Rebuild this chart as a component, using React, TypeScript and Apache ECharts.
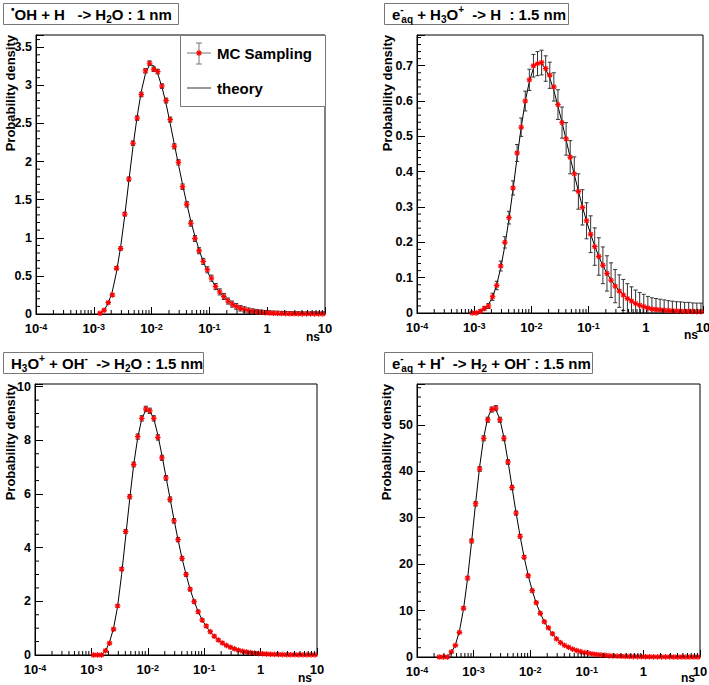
import React, { useEffect, useRef } from "react";
import * as echarts from "echarts";

const FONT = "'Liberation Sans', Arial, Helvetica, sans-serif";

// Log-spaced histogram bin centres (ns), 14 bins per decade from 1e-4 to 10
const binCenters = [
  1.086e-4, 1.279e-4, 1.508e-4, 1.778e-4, 2.096e-4, 2.471e-4, 2.913e-4, 3.433e-4, 4.047e-4, 4.771e-4, 5.623e-4, 6.629e-4, 7.814e-4, 9.211e-4,
  1.086e-3, 1.279e-3, 1.508e-3, 1.778e-3, 2.096e-3, 2.471e-3, 2.913e-3, 3.433e-3, 4.047e-3, 4.771e-3, 5.623e-3, 6.629e-3, 7.814e-3, 9.211e-3,
  1.086e-2, 1.279e-2, 1.508e-2, 1.778e-2, 2.096e-2, 2.471e-2, 2.913e-2, 3.433e-2, 4.047e-2, 4.771e-2, 5.623e-2, 6.629e-2, 7.814e-2, 9.211e-2,
  1.086e-1, 1.279e-1, 1.508e-1, 1.778e-1, 2.096e-1, 2.471e-1, 2.913e-1, 3.433e-1, 4.047e-1, 4.771e-1, 5.623e-1, 6.629e-1, 7.814e-1, 9.211e-1,
  1.086, 1.279, 1.508, 1.778, 2.096, 2.471, 2.913, 3.433, 4.047, 4.771, 5.623, 6.629, 7.814, 9.211,
];

// Panel 1: •OH + H -> H2O : 1 nm   (first filled bin index)
const p1Start = 15;
const p1MC = [0.01, 0.05, 0.15, 0.25, 0.60, 0.86, 1.31, 1.77, 2.24, 2.57, 2.88, 3.19, 3.29, 3.21, 3.18, 2.99, 2.80, 2.55, 2.20, 1.99, 1.67, 1.44, 1.19, 0.99, 0.83, 0.69, 0.58, 0.47, 0.36, 0.29, 0.23, 0.17, 0.13, 0.10, 0.075, 0.06, 0.045, 0.035, 0.028, 0.022, 0.017, 0.013, 0.010, 0.008, 0.006, 0.005, 0.004, 0.003, 0.003, 0.002, 0.002, 0.002, 0.001, 0.001, 0.001];
const p1Err = [0.01, 0.012, 0.015, 0.018, 0.02, 0.022, 0.025, 0.027, 0.03, 0.03, 0.03, 0.03, 0.03, 0.03, 0.03, 0.03, 0.032, 0.033, 0.034, 0.035, 0.036, 0.037, 0.038, 0.039, 0.04, 0.04, 0.04, 0.04, 0.04, 0.04, 0.04, 0.04, 0.04, 0.038, 0.036, 0.035, 0.034, 0.033, 0.032, 0.031, 0.03, 0.03, 0.029, 0.029, 0.028, 0.028, 0.027, 0.027, 0.027, 0.026, 0.026, 0.026, 0.026, 0.025, 0.025];
const p1Theory = [0, 0.05, 0.14, 0.30, 0.55, 0.88, 1.29, 1.75, 2.20, 2.59, 2.92, 3.15, 3.27, 3.26, 3.15, 2.98, 2.76, 2.50, 2.23, 1.96, 1.70, 1.45, 1.22, 1.02, 0.84, 0.69, 0.56, 0.45, 0.36, 0.285, 0.225, 0.175, 0.135, 0.105, 0.08, 0.062, 0.047, 0.036, 0.028, 0.021, 0.016, 0.012, 0.0095, 0.0073, 0.0056, 0.0043, 0.0033, 0.0026, 0.002, 0.0015, 0.0012, 0.0009, 0.0007, 0.0005, 0.0004];

// Panel 2: e-aq + H3O+ -> H : 1.5 nm
const p2Start = 13;
const p2MC = [0, 0, 0.005, 0.013, 0.02, 0.046, 0.078, 0.133, 0.20, 0.27, 0.354, 0.453, 0.526, 0.60, 0.66, 0.70, 0.706, 0.709, 0.692, 0.673, 0.64, 0.59, 0.539, 0.493, 0.441, 0.394, 0.344, 0.299, 0.261, 0.223, 0.188, 0.16, 0.135, 0.112, 0.093, 0.076, 0.062, 0.051, 0.041, 0.034, 0.027, 0.022, 0.018, 0.014, 0.011, 0.010, 0.009, 0.008, 0.007, 0.0065, 0.006, 0.0055, 0.005, 0.005, 0.0045, 0.004, 0.004];
const p2Err = [0.002, 0.003, 0.004, 0.005, 0.007, 0.01, 0.012, 0.014, 0.016, 0.018, 0.02, 0.024, 0.026, 0.028, 0.03, 0.032, 0.034, 0.035, 0.036, 0.037, 0.04, 0.042, 0.044, 0.046, 0.047, 0.048, 0.05, 0.05, 0.051, 0.052, 0.053, 0.053, 0.052, 0.05, 0.049, 0.047, 0.046, 0.044, 0.042, 0.04, 0.038, 0.036, 0.035, 0.033, 0.032, 0.031, 0.03, 0.029, 0.028, 0.027, 0.026, 0.026, 0.025, 0.025, 0.024, 0.024, 0.024];
const p2Theory = [0, 0.001, 0.005, 0.011, 0.024, 0.045, 0.08, 0.128, 0.19, 0.265, 0.35, 0.44, 0.525, 0.60, 0.655, 0.693, 0.71, 0.707, 0.69, 0.665, 0.63, 0.585, 0.54, 0.49, 0.44, 0.392, 0.345, 0.30, 0.26, 0.223, 0.19, 0.16, 0.134, 0.112, 0.093, 0.077, 0.063, 0.052, 0.042, 0.034, 0.028, 0.022, 0.018, 0.015, 0.012, 0.0095, 0.0077, 0.0063, 0.0051, 0.0041, 0.0034, 0.0027, 0.0022, 0.0018, 0.0015, 0.0012, 0.001];

// Panel 3: H3O+ + OH- -> H2O : 1.5 nm
const p3Start = 14;
const p3MC = [0, 0, 0, 0.16, 0.44, 0.96, 1.83, 3.2, 4.6, 5.9, 7.1, 8.14, 8.82, 9.17, 9.1, 8.82, 8.11, 7.35, 6.6, 5.8, 5.0, 4.3, 3.6, 3.0, 2.45, 1.99, 1.61, 1.30, 1.08, 0.87, 0.70, 0.56, 0.45, 0.36, 0.29, 0.23, 0.18, 0.14, 0.11, 0.09, 0.07, 0.055, 0.045, 0.035, 0.028, 0.022, 0.018, 0.014, 0.011, 0.009, 0.007, 0.006, 0.005, 0.004, 0.003, 0.003];
const p3Err = [0.01, 0.01, 0.01, 0.02, 0.03, 0.04, 0.05, 0.06, 0.07, 0.08, 0.09, 0.1, 0.1, 0.1, 0.1, 0.1, 0.1, 0.095, 0.09, 0.09, 0.085, 0.08, 0.075, 0.07, 0.065, 0.06, 0.055, 0.05, 0.05, 0.045, 0.045, 0.04, 0.04, 0.035, 0.035, 0.035, 0.03, 0.03, 0.03, 0.03, 0.025, 0.025, 0.025, 0.025, 0.02, 0.02, 0.02, 0.02, 0.02, 0.02, 0.02, 0.02, 0.02, 0.02, 0.02, 0.02];
const p3Theory = [0, 0, 0.02, 0.15, 0.47, 1.0, 1.8, 3.0, 4.4, 5.8, 7.1, 8.1, 8.8, 9.12, 9.1, 8.8, 8.2, 7.45, 6.65, 5.85, 5.05, 4.3, 3.6, 3.0, 2.45, 2.0, 1.62, 1.31, 1.06, 0.86, 0.69, 0.56, 0.45, 0.36, 0.29, 0.23, 0.18, 0.145, 0.115, 0.09, 0.072, 0.057, 0.045, 0.036, 0.028, 0.022, 0.018, 0.014, 0.011, 0.0087, 0.0069, 0.0055, 0.0043, 0.0034, 0.0027, 0.0021];

// Panel 4: e-aq + H• -> H2 + OH- : 1.5 nm
const p4Start = 5;
const p4MC = [0, 0, 0, 1.1, 2.5, 5.3, 10.5, 17, 25, 33, 40.5, 47.1, 51.1, 53.3, 53.6, 51.1, 47.1, 42, 36.5, 31, 26, 21.5, 17.5, 14.3, 11.7, 9.4, 7.6, 6.3, 5.0, 3.9, 3.1, 2.5, 2.1, 1.7, 1.4, 1.15, 0.95, 0.8, 0.65, 0.55, 0.45, 0.37, 0.3, 0.25, 0.2, 0.16, 0.13, 0.11, 0.09, 0.07, 0.06, 0.05, 0.04, 0.035, 0.03, 0.025, 0.02, 0.017, 0.014, 0.012, 0.01, 0.008, 0.007, 0.006, 0.005];
const p4Err = [0.05, 0.05, 0.05, 0.12, 0.18, 0.25, 0.33, 0.4, 0.45, 0.5, 0.52, 0.55, 0.55, 0.55, 0.55, 0.55, 0.52, 0.5, 0.47, 0.44, 0.4, 0.37, 0.34, 0.31, 0.28, 0.25, 0.23, 0.21, 0.19, 0.17, 0.15, 0.14, 0.13, 0.12, 0.11, 0.1, 0.1, 0.09, 0.09, 0.08, 0.08, 0.07, 0.07, 0.07, 0.06, 0.06, 0.06, 0.06, 0.05, 0.05, 0.05, 0.05, 0.05, 0.05, 0.05, 0.05, 0.05, 0.05, 0.05, 0.05, 0.05, 0.05, 0.05, 0.05, 0.05];
const p4Theory = [0, 0, 0.2, 1.0, 2.6, 5.6, 10.3, 16.8, 24.8, 33.2, 41, 47.3, 51.5, 53.5, 53.3, 51.2, 47.3, 42.2, 36.6, 31.1, 26, 21.5, 17.6, 14.3, 11.6, 9.4, 7.6, 6.2, 5.0, 4.0, 3.25, 2.6, 2.1, 1.7, 1.38, 1.12, 0.92, 0.75, 0.61, 0.5, 0.41, 0.34, 0.28, 0.23, 0.19, 0.155, 0.128, 0.105, 0.087, 0.072, 0.06, 0.05, 0.041, 0.034, 0.028, 0.023, 0.019, 0.016, 0.013, 0.011, 0.009, 0.0075, 0.0062, 0.0051, 0.0042];

// Axis ranges
const yMaxes = [3.66, 0.787, 10.1, 58.8];
const yMajorSteps = [0.5, 0.1, 2, 10];
const yMinorSteps = [0.1, 0.02, 0.5, 2];
const xMin = 1e-4;
const xMax = 10;

const titles = [
  "{sup|•}{n|OH + H   -> H}{sub|2}{n|O : 1 nm}",
  "{n|e}{supz|-}{sub|aq}{n| + H}{sub|3}{n|O}{sup|+}{n|  -> H  : 1.5 nm}",
  "{n|H}{sub|3}{n|O}{sup|+}{n| + OH}{sup|-}{n|  -> H}{sub|2}{n|O : 1.5 nm}",
  "{n|e}{supz|-}{sub|aq}{n| + H}{sup|•}{n|  -> H}{sub|2}{n| + OH}{sup|-}{n| : 1.5 nm}",
];
const yAxisTitle = "Probability density";
const xAxisUnit = "ns";
const legendLabels = ["MC Sampling", "theory"];

// Layout (pixels)
const layouts = [
  { left: 36, top: 35, width: 289, height: 279 },
  { left: 417, top: 35, width: 286, height: 278 },
  { left: 35, top: 384, width: 282, height: 271 },
  { left: 417, top: 384, width: 283, height: 273 },
];
const titleBoxes = [
  { x: 3, y: 3, w: 175, h: 21 },
  { x: 384, y: 3, w: 184, h: 21 },
  { x: 3, y: 352, w: 200, h: 21 },
  { x: 384, y: 352, w: 208, h: 21 },
];
const yTitleX = [10, 387, 10, 386];
const unitY = [337, 335, 678, 678];

const panels = [
  { start: p1Start, mc: p1MC, err: p1Err, theory: p1Theory },
  { start: p2Start, mc: p2MC, err: p2Err, theory: p2Theory },
  { start: p3Start, mc: p3MC, err: p3Err, theory: p3Theory },
  { start: p4Start, mc: p4MC, err: p4Err, theory: p4Theory },
];

const RED = "#ff0000";
const ERR = "#333333";

function asterisk(cx: number, cy: number, r: number) {
  const d = r * 0.72;
  const st = { stroke: RED, lineWidth: 1.2 };
  return [
    { type: "line", shape: { x1: cx - r, y1: cy, x2: cx + r, y2: cy }, style: st },
    { type: "line", shape: { x1: cx, y1: cy - r, x2: cx, y2: cy + r }, style: st },
    { type: "line", shape: { x1: cx - d, y1: cy - d, x2: cx + d, y2: cy + d }, style: st },
    { type: "line", shape: { x1: cx - d, y1: cy + d, x2: cx + d, y2: cy - d }, style: st },
  ];
}

function App() {
  const ref = useRef<HTMLDivElement>(null);
  useEffect(() => {
    const chart = echarts.init(ref.current!, null, { renderer: "svg" });

    const xMinorTicks: number[] = [];
    for (let d = -4; d <= 0; d++) {
      for (let m = 2; m <= 9; m++) xMinorTicks.push(m * Math.pow(10, d));
    }

    const titleRich = {
      n: { fontSize: 15, fontWeight: "bold", fontFamily: FONT, fill: "#000", color: "#000", lineHeight: 20 },
      sub: { fontSize: 10, fontWeight: "bold", fontFamily: FONT, color: "#000", lineHeight: 10, verticalAlign: "bottom" },
      sup: { fontSize: 10, fontWeight: "bold", fontFamily: FONT, color: "#000", lineHeight: 10, verticalAlign: "top" },
      supz: { fontSize: 10, fontWeight: "bold", fontFamily: FONT, color: "#000", lineHeight: 10, verticalAlign: "top", width: 1 },
    };

    const series: any[] = [];
    panels.forEach((p, k) => {
      const xs = binCenters.slice(p.start);
      series.push({
        type: "line",
        xAxisIndex: k,
        yAxisIndex: k,
        data: p.theory.map((v, i) => [xs[i], v]),
        showSymbol: false,
        symbol: "none",
        lineStyle: { color: "#000", width: 1 },
        z: 2,
        silent: true,
      });
      series.push({
        type: "custom",
        xAxisIndex: k,
        yAxisIndex: k,
        silent: true,
        z: 3,
        data: p.mc.map((v, i) => [xs[i], v, p.err[i]]),
        renderItem: (_params: any, api: any) => {
          const x = api.value(0);
          const y = api.value(1);
          const e = api.value(2);
          const c = api.coord([x, y]);
          const t = api.coord([x, y + e]);
          const b = api.coord([x, Math.max(0, y - e)]);
          const st = { stroke: ERR, lineWidth: 1 };
          return {
            type: "group",
            children: [
              { type: "line", shape: { x1: c[0], y1: t[1], x2: c[0], y2: b[1] }, style: st },
              { type: "line", shape: { x1: c[0] - 2, y1: t[1], x2: c[0] + 2, y2: t[1] }, style: st },
              { type: "line", shape: { x1: c[0] - 2, y1: b[1], x2: c[0] + 2, y2: b[1] }, style: st },
              ...asterisk(c[0], c[1], 2.8),
            ],
          };
        },
      });
      series.push({
        type: "custom",
        xAxisIndex: k,
        yAxisIndex: k,
        silent: true,
        z: 5,
        data: xMinorTicks.map((v) => [v, 0]),
        renderItem: (_params: any, api: any) => {
          const c = api.coord([api.value(0), 0]);
          return { type: "line", shape: { x1: c[0], y1: c[1], x2: c[0], y2: c[1] - 4 }, style: { stroke: "#000", lineWidth: 1 } };
        },
      });
      const yMinor: number[] = [];
      const nMinor = Math.floor(yMaxes[k] / yMinorSteps[k] + 1e-6);
      const per = Math.round(yMajorSteps[k] / yMinorSteps[k]);
      for (let j = 1; j <= nMinor; j++) if (j % per !== 0) yMinor.push(j * yMinorSteps[k]);
      series.push({
        type: "custom",
        xAxisIndex: k,
        yAxisIndex: k,
        silent: true,
        z: 5,
        data: yMinor.map((v) => [xMin, v]),
        renderItem: (_params: any, api: any) => {
          const c = api.coord([xMin, api.value(1)]);
          return { type: "line", shape: { x1: c[0], y1: c[1], x2: c[0] + 4, y2: c[1] }, style: { stroke: "#000", lineWidth: 1 } };
        },
      });
    });

    const graphic: any[] = [];
    titles.forEach((t, k) => {
      const b = titleBoxes[k];
      graphic.push({
        type: "rect",
        shape: { x: b.x + 0.5, y: b.y + 0.5, width: b.w, height: b.h },
        style: { fill: "#fff", stroke: "#777", lineWidth: 1 },
        z: 10,
      });
      graphic.push({
        type: "text",
        x: b.x + 8,
        y: b.y + b.h / 2 + 1,
        style: { text: t, rich: titleRich, align: "left", verticalAlign: "middle", fill: "#000" },
        z: 11,
      });
      const l = layouts[k];
      graphic.push({
        type: "text",
        x: yTitleX[k],
        y: l.top,
        rotation: Math.PI / 2,
        style: { text: yAxisTitle, fontSize: 13, fontWeight: "bold", fontFamily: FONT, fill: "#000", align: "right", verticalAlign: "middle" },
        z: 11,
      });
      graphic.push({
        type: "text",
        x: l.left + l.width - 5,
        y: unitY[k],
        style: { text: xAxisUnit, fontSize: 12, fontWeight: "bold", fontFamily: FONT, fill: "#000", align: "right", verticalAlign: "middle" },
        z: 11,
      });
    });

    // Legend (panel 1)
    const lg = { x: 180, y: 35, w: 145, h: 71 };
    graphic.push({
      type: "rect",
      shape: { x: lg.x + 0.5, y: lg.y + 0.5, width: lg.w, height: lg.h },
      style: { fill: "#fff", stroke: "#777", lineWidth: 1 },
      z: 10,
    });
    const iy1 = lg.y + 18;
    const iy2 = lg.y + 53;
    const icx = lg.x + 19;
    graphic.push({ type: "line", shape: { x1: lg.x + 7, y1: iy1, x2: lg.x + 31, y2: iy1 }, style: { stroke: "#777", lineWidth: 1 }, z: 11 });
    graphic.push({ type: "line", shape: { x1: icx, y1: iy1 - 10, x2: icx, y2: iy1 + 11 }, style: { stroke: "#777", lineWidth: 1 }, z: 11 });
    graphic.push({ type: "line", shape: { x1: icx - 3, y1: iy1 - 10, x2: icx + 3, y2: iy1 - 10 }, style: { stroke: "#777", lineWidth: 1 }, z: 11 });
    graphic.push({ type: "line", shape: { x1: icx - 3, y1: iy1 + 11, x2: icx + 3, y2: iy1 + 11 }, style: { stroke: "#777", lineWidth: 1 }, z: 11 });
    asterisk(icx, iy1, 2.8).forEach((el) => graphic.push({ ...el, z: 12 }));
    graphic.push({
      type: "text", x: lg.x + 37, y: iy1,
      style: { text: legendLabels[0], fontSize: 15, fontWeight: "bold", fontFamily: FONT, fill: "#000", align: "left", verticalAlign: "middle" },
      z: 11,
    });
    graphic.push({ type: "line", shape: { x1: lg.x + 7, y1: iy2, x2: lg.x + 31, y2: iy2 }, style: { stroke: "#333", lineWidth: 1 }, z: 11 });
    graphic.push({
      type: "text", x: lg.x + 37, y: iy2,
      style: { text: legendLabels[1], fontSize: 15, fontWeight: "bold", fontFamily: FONT, fill: "#000", align: "left", verticalAlign: "middle" },
      z: 11,
    });

    const axisLineStyle = { color: "#000", width: 1 };
    const option: any = {
      animation: false,
      backgroundColor: "#fff",
      grid: layouts.map((l) => ({
        ...l,
        show: true,
        borderColor: "#000",
        borderWidth: 1,
        backgroundColor: "transparent",
        containLabel: false,
        outerBoundsMode: "none",
      })),
      xAxis: layouts.map((_l, k) => ({
        type: "log",
        logBase: 10,
        gridIndex: k,
        min: xMin,
        max: xMax,
        axisLine: { show: true, onZero: false, lineStyle: axisLineStyle },
        axisTick: { show: true, inside: true, length: 7, lineStyle: axisLineStyle },
        splitLine: { show: false },
        minorTick: { show: false },
        axisLabel: {
          margin: 8,
          formatter: (v: number) => {
            const e = Math.round(Math.log10(v));
            if (e === 0) return "{b|1}";
            if (e === 1) return "{b|10}";
            return "{b|10}{sup|" + e + "}";
          },
          rich: {
            b: { fontSize: 13, fontWeight: "bold", fontFamily: FONT, color: "#000", lineHeight: 13 },
            sup: { fontSize: 9, fontWeight: "bold", fontFamily: FONT, color: "#000", lineHeight: 9, verticalAlign: "top" },
          },
        },
      })),
      yAxis: layouts.map((_l, k) => ({
        type: "value",
        gridIndex: k,
        min: 0,
        max: yMaxes[k],
        interval: yMajorSteps[k],
        axisLine: { show: true, onZero: false, lineStyle: axisLineStyle },
        axisTick: { show: true, inside: true, length: 8, lineStyle: axisLineStyle },
        splitLine: { show: false },
        axisLabel: {
          margin: 4,
          fontSize: 12.5,
          fontWeight: "bold",
          fontFamily: FONT,
          color: "#000",
          formatter: (v: number) => {
            const r = v / yMajorSteps[k];
            if (Math.abs(r - Math.round(r)) > 1e-6) return "";
            return String(parseFloat(v.toFixed(3)));
          },
        },
      })),
      series,
      graphic,
    };
    chart.setOption(option);
    return () => chart.dispose();
  }, []);
  return (
    <div
      ref={ref}
      style={{ position: "fixed", left: 0, top: 0, width: 709, height: 685, background: "#fff" }}
    />
  );
}

export default App;
